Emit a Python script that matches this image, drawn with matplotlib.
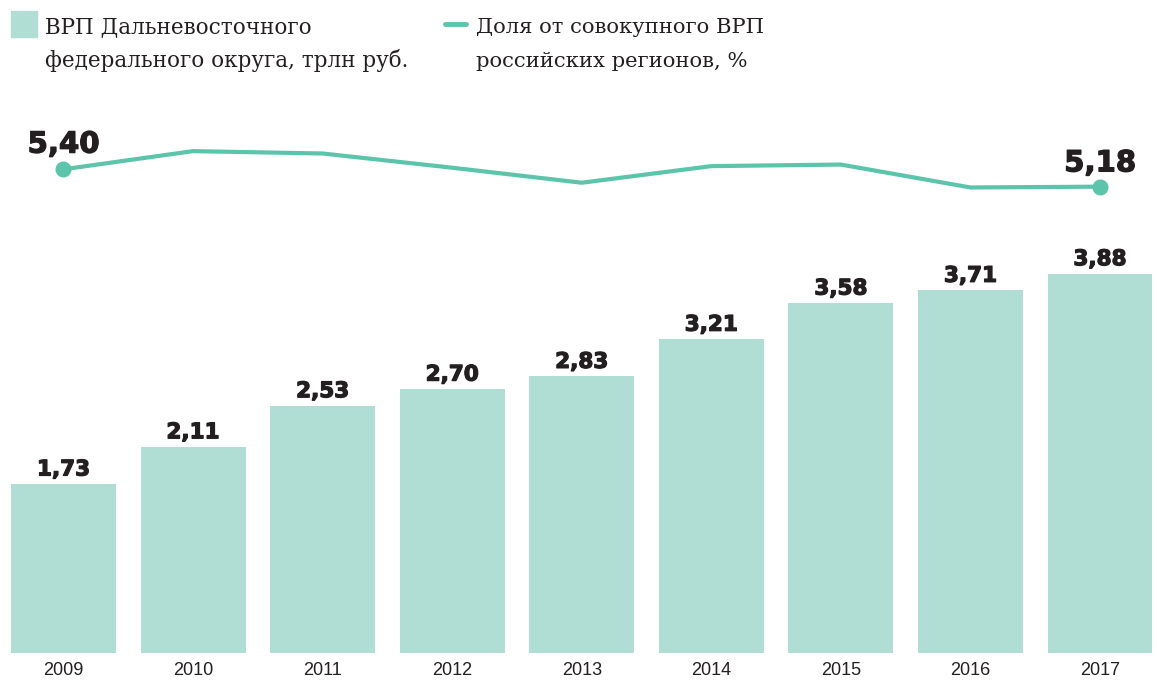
import matplotlib
matplotlib.use('Agg')
import matplotlib.pyplot as plt
import matplotlib.patheffects as pe
from matplotlib.patches import Rectangle
from matplotlib.lines import Line2D

# data
years = ['2009', '2010', '2011', '2012', '2013', '2014', '2015', '2016', '2017']
grp = [1.73, 2.11, 2.53, 2.70, 2.83, 3.21, 3.58, 3.71, 3.88]
grp_labels = ['1,73', '2,11', '2,53', '2,70', '2,83', '3,21', '3,58', '3,71', '3,88']
share = [5.40, 5.63, 5.60, 5.42, 5.23, 5.44, 5.46, 5.17, 5.18]
share_labels = ['5,40', '5,18']
legend1 = ['ВРП Дальневосточного', 'федерального округа, трлн руб.']
legend2 = ['Доля от совокупного ВРП', 'российских регионов, %']

bar_color = '#b0ded4'
line_color = '#5cc4aa'
text_color = '#231f20'
W, H = 1157, 681
heavy = [pe.withStroke(linewidth=0.9, foreground=text_color)]

fig = plt.figure(figsize=(W / 100, H / 100), dpi=100)
ax = fig.add_axes([0, 28 / H, 1, 653 / H])
x = range(len(years))
ax.bar(x, grp, width=0.81, color=bar_color)
ax.set_xlim(-0.49, 8.44)
ax.set_ylim(0, 653 / 97.8)
for i, v in enumerate(grp):
    ax.annotate(grp_labels[i], (i, v), xytext=(0, 6), textcoords='offset points',
                ha='center', va='baseline', fontsize=15.5, fontweight='bold',
                family='DejaVu Sans', color=text_color, path_effects=heavy)
for i, y in enumerate(years):
    ax.annotate(y, (i, 0), xytext=(0, -16), textcoords='offset points',
                ha='center', va='baseline', fontsize=13,
                family=['Liberation Sans', 'DejaVu Sans'], color=text_color)
ax.axis('off')

ax2 = fig.add_axes([0, 28 / H, 1, 653 / H], sharex=ax)
ax2.patch.set_visible(False)
ax2.plot(x, share, color=line_color, lw=3, solid_joinstyle='round', solid_capstyle='round')
ax2.plot([0, 8], [share[0], share[-1]], 'o', color=line_color, ms=10.5)
ax2.set_ylim(-0.723, 7.543)
ax2.annotate(share_labels[0], (0, share[0]), xytext=(0, 12), textcoords='offset points',
             ha='center', va='baseline', fontsize=21, fontweight='bold',
             family='DejaVu Sans', color=text_color, path_effects=heavy)
ax2.annotate(share_labels[1], (8, share[-1]), xytext=(0, 11), textcoords='offset points',
             ha='center', va='baseline', fontsize=21, fontweight='bold',
             family='DejaVu Sans', color=text_color, path_effects=heavy)
ax2.axis('off')

# legend
fig.patches.append(Rectangle((11 / W, 1 - 37 / H), 26 / W, 26 / H, transform=fig.transFigure,
                             color=bar_color))
fig.lines.append(Line2D([445 / W, 466 / W], [1 - 24 / H, 1 - 24 / H], transform=fig.transFigure,
                        color=line_color, lw=3.5, solid_capstyle='round'))
for k, (a, b) in enumerate(zip(legend1, legend2)):
    yb = 1 - (33 + 34 * k) / H
    fig.text(45 / W, yb, a, ha='left', va='baseline', fontsize=15.5,
             family='DejaVu Serif', color=text_color)
    fig.text(476 / W, yb, b, ha='left', va='baseline', fontsize=15.2,
             family='DejaVu Serif', color=text_color)

fig.savefig('out.png', dpi=100)
